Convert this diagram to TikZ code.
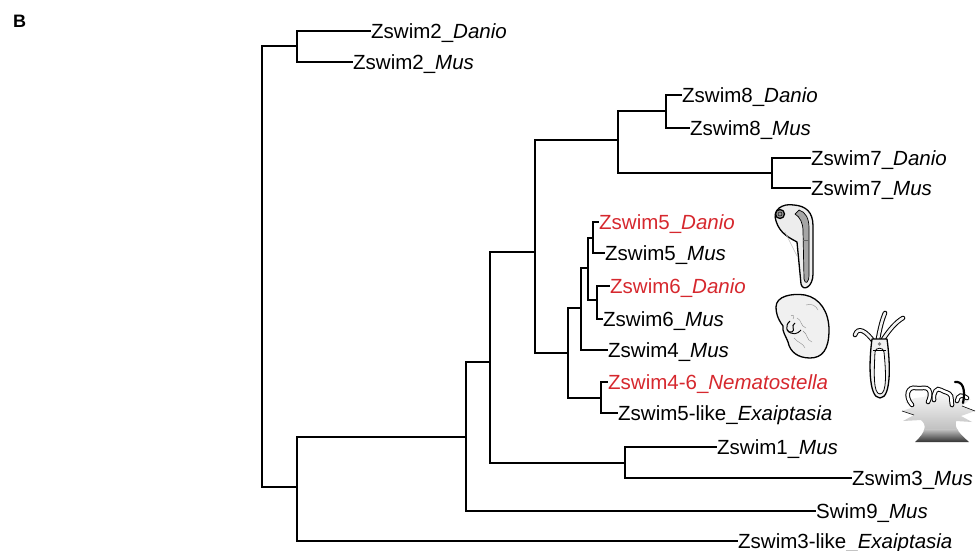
\documentclass[tikz,border=0pt]{standalone}
\usepackage{fontspec}
\setmainfont{Liberation Sans}
\definecolor{hitred}{RGB}{214,40,46}
\begin{document}
\begin{tikzpicture}[x=1pt,y=-1pt,
    branch/.style={line width=1.5pt},
    leaf/.style={anchor=base west,inner sep=0pt,yshift=-7.5pt,font=\fontsize{20.5}{24}\selectfont},
    outline/.style={line width=1.3pt,line join=round},
    tentacle/.style={double=black!5,double distance=2.6pt,line width=1pt,line cap=round}]
  \useasboundingbox (0,0) rectangle (978,551);
  \node[anchor=base west,inner sep=0pt,font=\fontsize{18}{20}\selectfont\bfseries] (panel) at (13,28) {B};

  % internal nodes of the tree
  \coordinate (root) at (262,266);
  \coordinate (c2)   at (297,46);
  \coordinate (cA)   at (297,487);
  \coordinate (cB)   at (466,437);
  \coordinate (cC)   at (490,362);
  \coordinate (c13)  at (625,463);
  \coordinate (cD)   at (535,252);
  \coordinate (c78)  at (618,140);
  \coordinate (c8)   at (666,111);
  \coordinate (c7)   at (772,173);
  \coordinate (cG)   at (568,353);
  \coordinate (cnem) at (601,398);
  \coordinate (cJ)   at (581,308);
  \coordinate (c56)  at (588,268);
  \coordinate (c5)   at (593,238);
  \coordinate (c6)   at (597,300);

  % tips
  \coordinate (z2d) at (371,31);
  \coordinate (z2m) at (353,62);
  \coordinate (z8d) at (682,95);
  \coordinate (z8m) at (690,128);
  \coordinate (z7d) at (811,158);
  \coordinate (z7m) at (811,188);
  \coordinate (z5d) at (599,222);
  \coordinate (z5m) at (605,253);
  \coordinate (z6d) at (610,286);
  \coordinate (z6m) at (603,319);
  \coordinate (z4m) at (608,350);
  \coordinate (nem) at (608,382);
  \coordinate (e5l) at (618,413);
  \coordinate (z1m) at (717,447);
  \coordinate (z3m) at (852,478);
  \coordinate (s9m) at (816,511);
  \coordinate (e3l) at (738,541);

  \node[leaf] (z2d-t) at (z2d) {Zswim2\_\textit{Danio}};
  \node[leaf] (z2m-t) at (z2m) {Zswim2\_\textit{Mus}};
  \node[leaf] (z8d-t) at (z8d) {Zswim8\_\textit{Danio}};
  \node[leaf] (z8m-t) at (z8m) {Zswim8\_\textit{Mus}};
  \node[leaf] (z7d-t) at (z7d) {Zswim7\_\textit{Danio}};
  \node[leaf] (z7m-t) at (z7m) {Zswim7\_\textit{Mus}};
  \node[leaf,text=hitred] (z5d-t) at (z5d) {Zswim5\_\textit{Danio}};
  \node[leaf] (z5m-t) at (z5m) {Zswim5\_\textit{Mus}};
  \node[leaf,text=hitred] (z6d-t) at (z6d) {Zswim6\_\textit{Danio}};
  \node[leaf] (z6m-t) at (z6m) {Zswim6\_\textit{Mus}};
  \node[leaf] (z4m-t) at (z4m) {Zswim4\_\textit{Mus}};
  \node[leaf,text=hitred] (nem-t) at (nem) {Zswim4-6\_\textit{Nematostella}};
  \node[leaf] (e5l-t) at (e5l) {Zswim5-like\_\textit{Exaiptasia}};
  \node[leaf] (z1m-t) at (z1m) {Zswim1\_\textit{Mus}};
  \node[leaf] (z3m-t) at (z3m) {Zswim3\_\textit{Mus}};
  \node[leaf] (s9m-t) at (s9m) {Swim9\_\textit{Mus}};
  \node[leaf] (e3l-t) at (e3l) {Zswim3-like\_\textit{Exaiptasia}};

  % branches
  \draw[branch] (root) |- (c2)  (root) |- (cA);
  \draw[branch] (c2) |- (z2d)   (c2) |- (z2m);
  \draw[branch] (cA) |- (cB)    (cA) |- (e3l);
  \draw[branch] (cB) |- (cC)    (cB) |- (s9m);
  \draw[branch] (cC) |- (cD)    (cC) |- (c13);
  \draw[branch] (c13) |- (z1m)  (c13) |- (z3m);
  \draw[branch] (cD) |- (c78)   (cD) |- (cG);
  \draw[branch] (c78) |- (c8)   (c78) |- (c7);
  \draw[branch] (c8) |- (z8d)   (c8) |- (z8m);
  \draw[branch] (c7) |- (z7d)   (c7) |- (z7m);
  \draw[branch] (cG) |- (cJ)    (cG) |- (cnem);
  \draw[branch] (cnem) |- (nem) (cnem) |- (e5l);
  \draw[branch] (cJ) |- (c56)   (cJ) |- (z4m);
  \draw[branch] (c56) |- (c5)   (c56) |- (c6);
  \draw[branch] (c5) |- (z5d)   (c5) |- (z5m);
  \draw[branch] (c6) |- (z6d)   (c6) |- (z6m);

  % zebrafish embryo
  \draw[outline,fill=black!7]
    (776,221) .. controls (772,210) and (782,203) .. (794,205)
    .. controls (806,206) and (813,212) .. (813,226)
    -- (813,274) .. controls (813,287) and (803,292) .. (801,284)
    -- (797,242) .. controls (790,238) and (780,234) .. (776,221) -- cycle;
  \draw[line width=0.7pt,fill=black!35] (799,210) .. controls (806,212) and (809,219) .. (809,228)
    -- (809,275) .. controls (809,283) and (805,285) .. (804,279)
    -- (803,231) .. controls (803,223) and (800,217) .. (795,214) -- cycle;
  \draw[black!60,line width=0.5pt] (803,240) -- (809,240);
  \draw[outline,fill=black!40] (780,214) circle (4.5);
  \draw[line width=0.5pt] (780,214) circle (2);
  \draw[black!25,line width=0.5pt] (785,232) -- (797,256);

  % mouse embryo
  \draw[outline,fill=black!6]
    (776,307) .. controls (776,296) and (792,293) .. (805,295)
    .. controls (820,298) and (829,312) .. (829,330)
    .. controls (829,350) and (822,358) .. (810,358)
    .. controls (798,358) and (790,352) .. (788,342)
    .. controls (786,336) and (782,332) .. (783,326)
    .. controls (777,318) and (776,312) .. (776,307) -- cycle;
  \draw[line width=1pt] (790,321) .. controls (784,326) and (787,334) .. (792,332)
    .. controls (796,330) and (790,326) .. (795,323);
  \draw[line width=0.9pt] (787,330) .. controls (792,336) and (798,334) .. (801,330);
  \draw[black!45,line width=0.4pt] (797,318) .. controls (802,320) and (800,326) .. (806,328);
  \draw[black!45,line width=0.4pt] (803,331) .. controls (808,334) and (806,340) .. (812,342);
  \draw[black!45,line width=0.4pt] (794,338) .. controls (798,343) and (803,343) .. (805,348);
  \draw[black!45,line width=0.4pt] (791,316) .. controls (793,314) and (795,316) .. (793,319);
  \draw[black!45,line width=0.4pt] (806,305) .. controls (812,303) and (816,306) .. (818,310);

  % Nematostella polyp
  \draw[tentacle] (874,342) .. controls (866,331) and (858,326) .. (855,335);
  \draw[tentacle] (878,339) .. controls (880,328) and (882,320) .. (885,313);
  \draw[tentacle] (882,341) .. controls (889,330) and (896,322) .. (903,318);
  \draw[outline,fill=black!6]
    (872,339) -- (887,339) .. controls (890,360) and (892,398) .. (880,398)
    .. controls (868,398) and (869,360) .. (872,339) -- cycle;
  \draw[line width=0.8pt,fill=white] (875,352) .. controls (875,347) and (884,347) .. (884,352)
    .. controls (886,372) and (887,394) .. (880,394)
    .. controls (873,394) and (874,372) .. (875,352) -- cycle;
  \draw[line width=0.6pt] (873,350) -- (886,350);
  \fill[black!50] (879.5,344) circle (1.8);

  % Exaiptasia anemone
  \begin{scope}
    \clip (915,398) -- (905,402) -- (914,407) -- (902,411) -- (914,415) -- (903,421) -- (921,420)
      .. controls (927,425) and (926,432) .. (915,442) -- (969,442)
      .. controls (960,434) and (954,428) .. (956,421) -- (972,422) -- (961,416) -- (975,411)
      -- (962,406) -- (971,399) -- (960,400) -- (955,392) -- (949,398) -- (943,392)
      -- (937,398) -- (931,391) -- (924,397) -- cycle;
    \shade[top color=white,bottom color=black!25] (900,388) rectangle (978,430);
    \shade[top color=black!25,bottom color=black!85] (900,429.5) rectangle (978,443);
  \end{scope}
  \draw[tentacle,double=white] (912,405) .. controls (904,396) and (908,386) .. (916,388)
    .. controls (922,389) and (926,386) .. (929,390) .. controls (931,393) and (930,398) .. (928,402);
  \draw[tentacle,double=white] (934,400) .. controls (933,392) and (937,387) .. (941,390)
    .. controls (946,393) and (949,392) .. (951,396) .. controls (952,400) and (951,403) .. (952,405);
  \draw[tentacle,double=white] (957,401) .. controls (958,395) and (962,394) .. (967,398);
  \draw[line width=2.2pt,line cap=round] (955,382) .. controls (962,381) and (966,388) .. (963,403);
  \draw[line width=0.6pt] (902,411) -- (914,415) (975,411) -- (962,406);
\end{tikzpicture}
\end{document}
